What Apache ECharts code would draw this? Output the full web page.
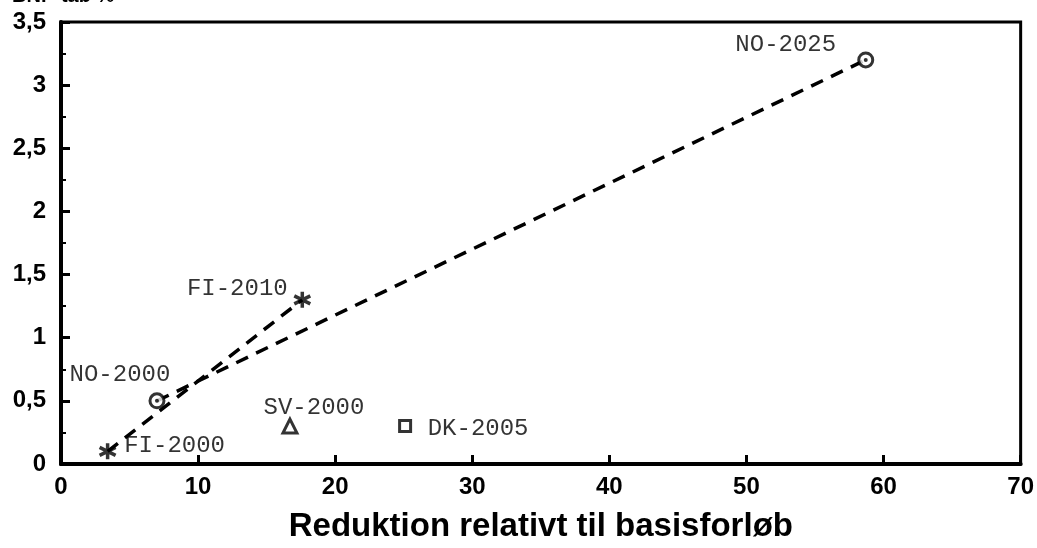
<!DOCTYPE html>
<html><head><meta charset="utf-8">
<script src="https://cdn.jsdelivr.net/npm/echarts@6/dist/echarts.min.js"></script>
<style>html,body{margin:0;padding:0;background:#fff}#c{width:1037px;height:548px}</style>
</head><body><div id="c"></div>
<script>
const xTitle = 'Reduktion relativt til basisforløb';
const pointNames = ['NO-2000','NO-2025','FI-2000','FI-2010','SV-2000','DK-2005'];
const pointX = [7, 58.7, 3.4, 17.6, 16.7, 25.1];
const pointY = [0.5, 3.2, 0.1, 1.3, 0.3, 0.3];
const noLine = [[7, 0.5], [58.7, 3.2]];
const fiLine = [[3.4, 0.1], [17.6, 1.3]];
const yTicks = ['0','0,5','1','1,5','2','2,5','3','3,5'];

const pt = i => [pointX[i], pointY[i]];
const lab = (i, dx, dy) => ({show:true,position:'inside',offset:[dx,dy],align:'center',verticalAlign:'middle',
  formatter:pointNames[i],fontFamily:'Liberation Mono',fontSize:24,color:'#000'});
const asterisk = 'path://M0,-10L0,10M-8.66,-5L8.66,5M-8.66,5L8.66,-5';

const chart = echarts.init(document.getElementById('c'));
chart.setOption({
  animation:false,
  backgroundColor:'#fff',
  grid:{left:61,right:16,top:22,bottom:80,show:true,borderColor:'#000',borderWidth:3},
  graphic:[{type:'text',left:12,top:-14,style:{text:'BNP-tab %',font:'bold 20px Liberation Sans',fill:'#000'}}],
  xAxis:{type:'value',min:0,max:70,interval:10,name:xTitle,nameLocation:'middle',nameGap:46,
    nameTextStyle:{fontFamily:'Liberation Sans',fontWeight:'bold',fontSize:33,color:'#000'},
    axisLine:{lineStyle:{color:'#000',width:4}},
    axisTick:{inside:true,length:9,lineStyle:{color:'#000',width:3}},
    axisLabel:{fontFamily:'Liberation Sans',fontWeight:'bold',fontSize:24,color:'#000',margin:11},
    splitLine:{show:false}},
  yAxis:{type:'value',min:0,max:3.5,interval:0.5,
    axisLine:{show:true,lineStyle:{color:'#000',width:4}},
    axisTick:{show:true,inside:true,length:9,lineStyle:{color:'#000',width:3}},
    minorTick:{show:true,splitNumber:2,length:5,lineStyle:{color:'#000',width:2}},
    axisLabel:{fontFamily:'Liberation Sans',fontWeight:'bold',fontSize:24,color:'#000',margin:15,
      formatter:v=>yTicks[Math.round(v*2)]},
    splitLine:{show:false}},
  series:[
    {type:'line',data:noLine,symbol:'none',lineStyle:{color:'#000',width:3.5,type:[13,9]},z:1},
    {type:'line',data:fiLine,symbol:'none',lineStyle:{color:'#000',width:3.5,type:[13,9]},z:1},
    {type:'scatter',symbol:'circle',symbolSize:14,z:3,
      itemStyle:{color:'#fff',borderColor:'#000',borderWidth:3},
      data:[
        {value:pt(0),label:lab(0,-37,-26)},
        {value:pt(1),label:lab(1,-80,-15)}
      ]},
    {type:'scatter',symbol:'circle',symbolSize:4,z:4,itemStyle:{color:'#000'},data:[pt(0),pt(1)]},
    {type:'scatter',symbol:asterisk,symbolSize:16,z:3,
      itemStyle:{color:'none',borderColor:'#000',borderWidth:3.5},
      data:[
        {value:pt(2),label:lab(2,67,-6)},
        {value:pt(3),label:lab(3,-65,-11)}
      ]},
    {type:'scatter',symbol:'triangle',symbolSize:14,z:3,
      itemStyle:{color:'#fff',borderColor:'#000',borderWidth:3},
      data:[{value:pt(4),label:lab(4,24,-18)}]},
    {type:'scatter',symbol:'rect',symbolSize:11,z:3,
      itemStyle:{color:'#fff',borderColor:'#000',borderWidth:3},
      data:[{value:pt(5),label:lab(5,73,3)}]}
  ]
});
</script></body></html>
